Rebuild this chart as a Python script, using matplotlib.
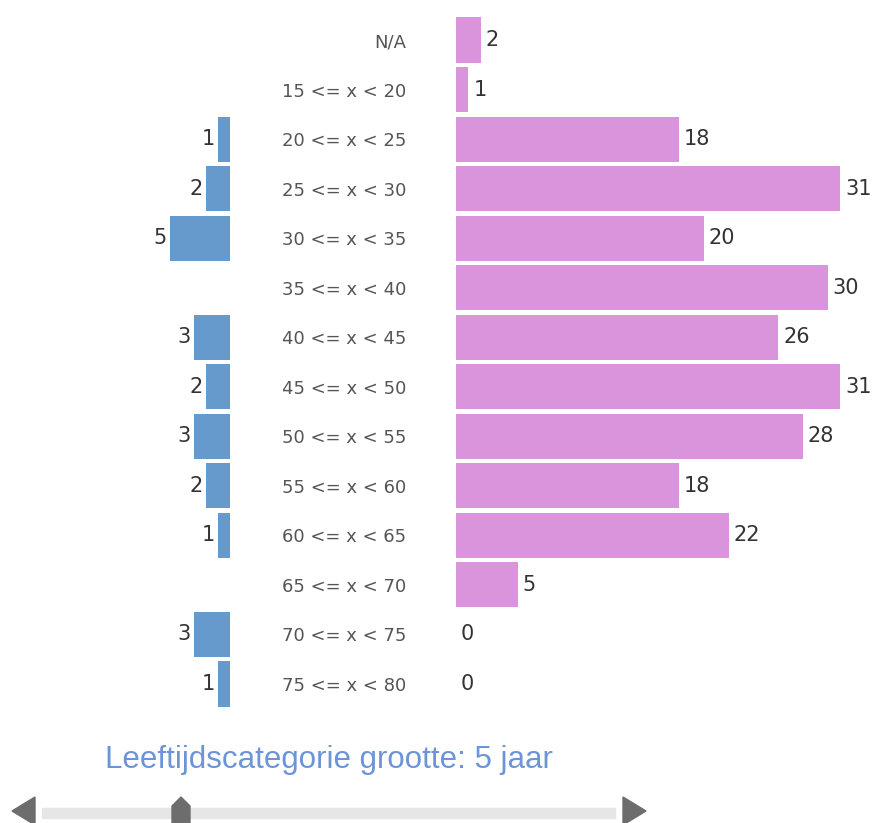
import matplotlib
matplotlib.use("Agg")
import matplotlib.pyplot as plt
from matplotlib.patches import Polygon, Rectangle

# ==== DATA ====
categories = ["N/A", "15 <= x < 20", "20 <= x < 25", "25 <= x < 30", "30 <= x < 35",
              "35 <= x < 40", "40 <= x < 45", "45 <= x < 50", "50 <= x < 55",
              "55 <= x < 60", "60 <= x < 65", "65 <= x < 70", "70 <= x < 75",
              "75 <= x < 80"]
left_values = [0, 0, 1, 2, 5, 0, 3, 2, 3, 2, 1, 0, 3, 1]
right_values = [2, 1, 18, 31, 20, 30, 26, 31, 28, 18, 22, 5, 0, 0]
title_text = "Leeftijdscategorie grootte: 5 jaar"

W, H = 877, 823
BLUE = "#6699cc"
PINK = "#d994dc"
LABEL_GRAY = "#555555"
VALUE_GRAY = "#333333"

fig = plt.figure(figsize=(W / 100, H / 100), dpi=100)
fig.patch.set_facecolor("white")

n = len(categories)
row_h = (684 - 40) / (n - 1)
top_px = 40 - row_h / 2
bot_px = 684 + row_h / 2


def px_rect(x0, x1):
    return [x0 / W, 1 - bot_px / H, (x1 - x0) / W, (bot_px - top_px) / H]


# ==== LEFT (blauw) ====
ax_l = fig.add_axes(px_rect(0, 230))
ax_l.barh(range(n), left_values, height=0.91, color=BLUE)
ax_l.set_xlim(230 / 12.1, 0)
ax_l.set_ylim(n - 0.5, -0.5)
for i, v in enumerate(left_values):
    if v > 0:
        ax_l.annotate(str(v), (v, i), xytext=(-2, 0), textcoords="offset points",
                      ha="right", va="center", fontsize=15, color=VALUE_GRAY)
ax_l.axis("off")

# ==== RIGHT (roze) ====
ax_r = fig.add_axes(px_rect(456, W))
ax_r.barh(range(n), right_values, height=0.91, color=PINK)
ax_r.set_xlim(0, (W - 456) / 12.39)
ax_r.set_ylim(n - 0.5, -0.5)
for i, v in enumerate(right_values):
    ax_r.annotate(str(v), (v, i), xytext=(3.5, 0), textcoords="offset points",
                  ha="left", va="center", fontsize=15, color=VALUE_GRAY)
ax_r.set_yticks(range(n))
ax_r.set_yticklabels(categories, fontsize=13, color=LABEL_GRAY, va="center_baseline")
ax_r.tick_params(axis="y", length=0, pad=36)
ax_r.set_xticks([])
for s in ax_r.spines.values():
    s.set_visible(False)

# ==== TITEL ONDER ====
fig.text(105 / W, 1 - 760 / H, title_text, fontsize=22.5, color="#6b95d6",
         family="Liberation Sans", ha="left", va="center")

# ==== SLIDER ====
ax_s = fig.add_axes([0, 0, 1, 1], zorder=-1)
ax_s.set_xlim(0, W)
ax_s.set_ylim(H, 0)
ax_s.axis("off")
ax_s.add_patch(Rectangle((42, 808), 573, 10, color="#e6e6e6"))
ax_s.add_patch(Polygon([(12, 811), (35, 797), (35, 825)], color="#6d6d6d"))
ax_s.add_patch(Polygon([(646, 811), (623, 797), (623, 825)], color="#6d6d6d"))
ax_s.add_patch(Polygon([(172, 806), (181, 797), (190, 806), (190, 825), (172, 825)],
                       color="#6d6d6d"))

plt.savefig("out.png", dpi=100)
plt.close(fig)
